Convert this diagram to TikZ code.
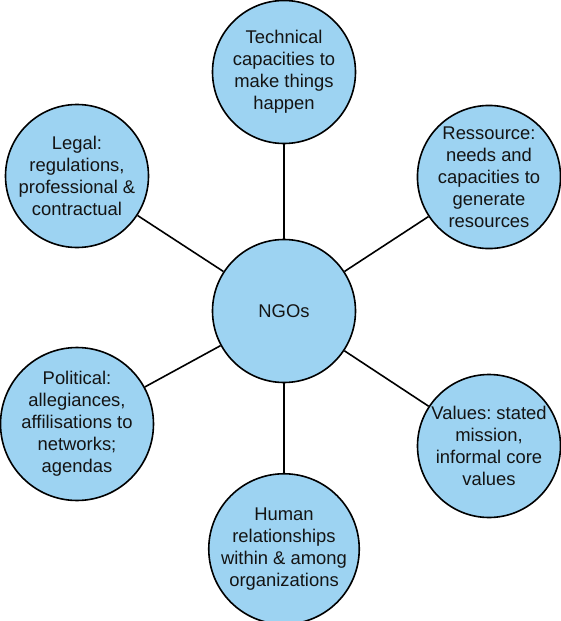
\documentclass[tikz,border=0pt]{standalone}
\usepackage{fontspec}
\setmainfont{Liberation Sans}
\frenchspacing
\definecolor{bubblefill}{RGB}{157,211,242}
\definecolor{ink}{RGB}{20,20,20}
\begin{document}
\begin{tikzpicture}[x=1pt,y=-1pt,
  bubble/.style={circle,draw=black,line width=1.6pt,fill=bubblefill,minimum size=143pt,inner sep=0pt,
    align=center,text=ink,font=\fontsize{18.4}{22}\selectfont},
  link/.style={draw=black,line width=1.6pt}]
\useasboundingbox (0,0) rectangle (561,621);
\node[bubble] (ngo) at (284,311) {NGOs};
\node[bubble] (tech) at (284,72) {Technical\\capacities to\\make things\\happen};
\node[bubble] (res) at (489,177) {Ressource:\\needs and\\capacities to\\generate\\resources};
\node[bubble] (legal) at (77,176) {Legal:\\regulations,\\professional \&\\contractual};
\node[bubble] (pol) at (77,424) {Political:\\allegiances,\\affilisations to\\networks;\\agendas};
\node[bubble] (val) at (489,446) {Values: stated\\mission,\\informal core\\values};
\node[bubble] (hum) at (284,549) {Human\\relationships\\within \& among\\organizations};
\draw[link] (ngo) -- (tech);
\draw[link] (ngo) -- (res);
\draw[link] (ngo) -- (legal);
\draw[link] (ngo) -- (pol);
\draw[link] (ngo) -- (val);
\draw[link] (ngo) -- (hum);
\end{tikzpicture}
\end{document}
